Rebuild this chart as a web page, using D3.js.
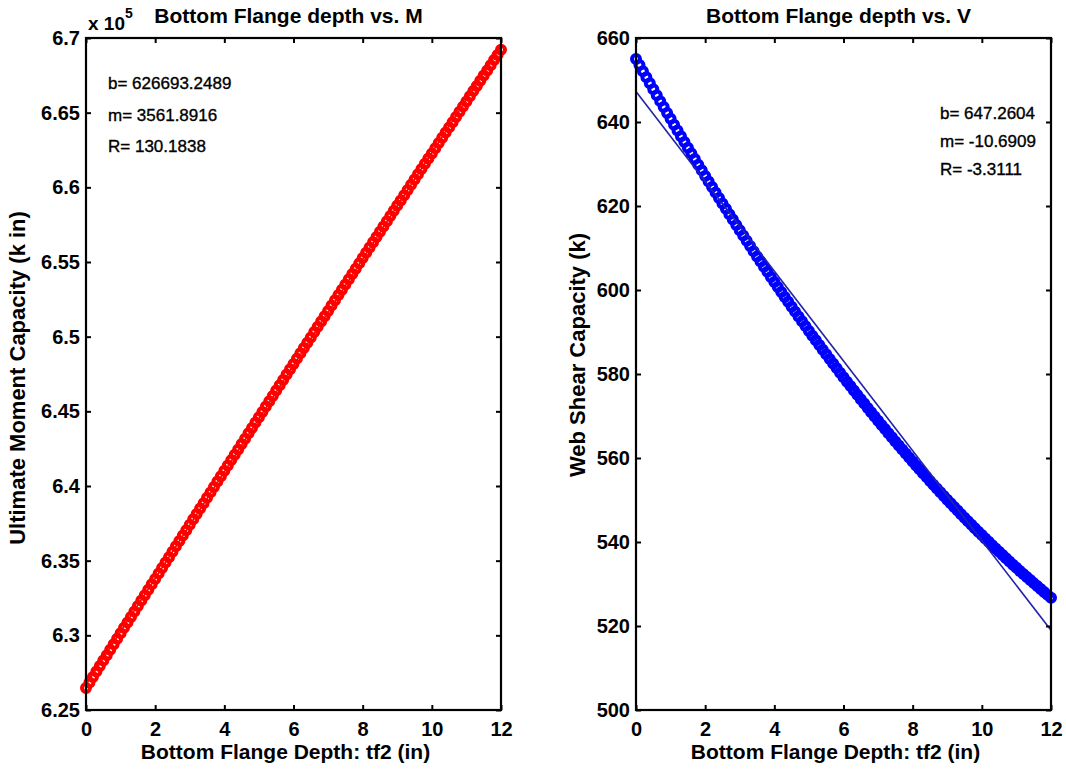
<!DOCTYPE html>
<html>
<head>
<meta charset="utf-8">
<script src="https://cdn.jsdelivr.net/npm/d3@7/dist/d3.min.js"></script>
<style>
  body { margin: 0; background: #fff; }
  svg { display: block; font-family: "Liberation Sans", Arial, Helvetica, sans-serif; }
</style>
</head>
<body>
<svg id="chart" width="1066" height="769"></svg>
<script>
// bottom flange depth samples (in)
const tf2 = [
  0.0, 0.1, 0.2, 0.3, 0.4, 0.5, 0.6, 0.7, 0.8, 0.9,
  1.0, 1.1, 1.2, 1.3, 1.4, 1.5, 1.6, 1.7, 1.8, 1.9,
  2.0, 2.1, 2.2, 2.3, 2.4, 2.5, 2.6, 2.7, 2.8, 2.9,
  3.0, 3.1, 3.2, 3.3, 3.4, 3.5, 3.6, 3.7, 3.8, 3.9,
  4.0, 4.1, 4.2, 4.3, 4.4, 4.5, 4.6, 4.7, 4.8, 4.9,
  5.0, 5.1, 5.2, 5.3, 5.4, 5.5, 5.6, 5.7, 5.8, 5.9,
  6.0, 6.1, 6.2, 6.3, 6.4, 6.5, 6.6, 6.7, 6.8, 6.9,
  7.0, 7.1, 7.2, 7.3, 7.4, 7.5, 7.6, 7.7, 7.8, 7.9,
  8.0, 8.1, 8.2, 8.3, 8.4, 8.5, 8.6, 8.7, 8.8, 8.9,
  9.0, 9.1, 9.2, 9.3, 9.4, 9.5, 9.6, 9.7, 9.8, 9.9,
  10.0, 10.1, 10.2, 10.3, 10.4, 10.5, 10.6, 10.7, 10.8, 10.9,
  11.0, 11.1, 11.2, 11.3, 11.4, 11.5, 11.6, 11.7, 11.8, 11.9,
  12.0
];

// ultimate moment capacity (k in)
const momentM = [
  626473, 626840, 627207, 627574, 627940, 628307, 628673, 629039, 629405, 629770,
  630136, 630501, 630866, 631231, 631596, 631960, 632325, 632689, 633053, 633417,
  633780, 634144, 634507, 634870, 635233, 635596, 635958, 636320, 636683, 637044,
  637406, 637768, 638129, 638490, 638851, 639212, 639573, 639933, 640294, 640654,
  641014, 641374, 641733, 642092, 642452, 642811, 643170, 643528, 643887, 644245,
  644603, 644961, 645319, 645676, 646034, 646391, 646748, 647104, 647461, 647818,
  648174, 648530, 648886, 649241, 649597, 649952, 650307, 650662, 651017, 651372,
  651726, 652080, 652434, 652788, 653142, 653495, 653849, 654202, 654555, 654908,
  655260, 655613, 655965, 656317, 656669, 657020, 657372, 657723, 658074, 658425,
  658776, 659126, 659477, 659827, 660177, 660527, 660876, 661226, 661575, 661924,
  662273, 662622, 662970, 663319, 663667, 664015, 664363, 664710, 665058, 665405,
  665752, 666099, 666445, 666792, 667138, 667484, 667830, 668176, 668522, 668867,
  669212
];

// web shear capacity (k)
const shearV = [
  655.00, 653.55, 652.10, 650.66, 649.23, 647.80, 646.38, 644.97, 643.56, 642.16,
  640.76, 639.37, 637.99, 636.62, 635.25, 633.89, 632.53, 631.18, 629.84, 628.50,
  627.17, 625.85, 624.53, 623.22, 621.91, 620.62, 619.32, 618.04, 616.76, 615.49,
  614.22, 612.96, 611.71, 610.46, 609.22, 607.99, 606.76, 605.54, 604.33, 603.12,
  601.92, 600.73, 599.54, 598.36, 597.18, 596.01, 594.85, 593.69, 592.54, 591.40,
  590.26, 589.13, 588.01, 586.89, 585.78, 584.68, 583.58, 582.49, 581.40, 580.32,
  579.25, 578.18, 577.12, 576.07, 575.03, 573.99, 572.95, 571.93, 570.90, 569.89,
  568.88, 567.88, 566.89, 565.90, 564.92, 563.94, 562.97, 562.01, 561.05, 560.10,
  559.16, 558.22, 557.29, 556.37, 555.45, 554.54, 553.64, 552.74, 551.85, 550.96,
  550.08, 549.21, 548.34, 547.49, 546.63, 545.79, 544.95, 544.11, 543.29, 542.46,
  541.65, 540.84, 540.04, 539.25, 538.46, 537.68, 536.90, 536.13, 535.37, 534.61,
  533.86, 533.12, 532.38, 531.65, 530.93, 530.21, 529.50, 528.80, 528.10, 527.41,
  526.72
];

// linear fits (intercept, slope) and their printed text
const fitM = [626693.2489, 3561.8916];
const fitV = [647.2604, -10.6909];
const fitTextM = ["b= 626693.2489", "m= 3561.8916", "R= 130.1838"];
const fitTextV = ["b= 647.2604", "m= -10.6909", "R= -3.3111"];

// ticks
const xTicks = [0, 2, 4, 6, 8, 10, 12];
const mTicks = [625000, 630000, 635000, 640000, 645000, 650000, 655000, 660000, 665000, 670000];
const mTickLabels = ["6.25", "6.3", "6.35", "6.4", "6.45", "6.5", "6.55", "6.6", "6.65", "6.7"];
const vTicks = [500, 520, 540, 560, 580, 600, 620, 640, 660];

const svg = d3.select("#chart");
svg.append("rect").attr("width", 1066).attr("height", 769).attr("fill", "#fff");

function drawPanel(p) {
  const x = d3.scaleLinear().domain([0, 12]).range([p.left, p.right]);
  const y = d3.scaleLinear().domain(p.yDomain).range([p.bottom, p.top]);
  const g = svg.append("g");

  // markers (dense 'o' markers form a solid band)
  g.selectAll("circle.pt")
    .data(tf2.map((t, i) => [t, p.values[i]]))
    .join("circle")
    .attr("class", "pt")
    .attr("cx", d => x(d[0]))
    .attr("cy", d => y(d[1]))
    .attr("r", 4)
    .attr("fill", "none")
    .attr("stroke", p.color)
    .attr("stroke-width", 4);

  // fit line
  g.append("line")
    .attr("x1", x(0)).attr("x2", x(12))
    .attr("y1", y(p.fit[0])).attr("y2", y(p.fit[0] + p.fit[1] * 12))
    .attr("stroke", p.lineColor)
    .attr("stroke-width", 1.6);

  const fmtY = p.yLabels ? (d, i) => p.yLabels[i] : d => d;

  const axes = [
    [d3.axisBottom(x).tickValues(xTicks).tickPadding(12), `translate(0,${p.bottom})`],
    [d3.axisTop(x).tickValues(xTicks).tickFormat(""), `translate(0,${p.top})`],
    [d3.axisLeft(y).tickValues(p.yTicks).tickFormat(fmtY).tickPadding(6), `translate(${p.left},0)`],
    [d3.axisRight(y).tickValues(p.yTicks).tickFormat(""), `translate(${p.right},0)`]
  ];
  for (const [ax, tr] of axes) {
    const a = g.append("g")
      .attr("transform", tr)
      .call(ax.tickSizeInner(-5).tickSizeOuter(0));
    a.select(".domain").remove();
    a.selectAll(".tick line").attr("stroke", "#000").attr("stroke-width", 2);
    a.selectAll(".tick text")
      .attr("fill", "#000")
      .attr("font-size", 20)
      .attr("font-weight", "bold")
      .attr("font-family", "'Liberation Sans', Arial, sans-serif");
  }

  // box
  g.append("rect")
    .attr("x", p.left).attr("y", p.top)
    .attr("width", p.right - p.left).attr("height", p.bottom - p.top)
    .attr("fill", "none").attr("stroke", "#000").attr("stroke-width", 2.2);

  // title and labels
  g.append("text")
    .attr("x", (p.left + p.right) / 2 - 5).attr("y", 23)
    .attr("text-anchor", "middle")
    .attr("font-size", 21).attr("font-weight", "bold")
    .text(p.title);

  g.append("text")
    .attr("x", (p.left + p.right) / 2 - 8).attr("y", 759)
    .attr("text-anchor", "middle")
    .attr("font-size", 21).attr("font-weight", "bold")
    .text("Bottom Flange Depth: tf2 (in)");

  g.append("text")
    .attr("transform", `translate(${p.yLabelX},${p.yLabelY}) rotate(-90)`)
    .attr("text-anchor", "middle")
    .attr("font-size", p.yLabelSize).attr("font-weight", "bold")
    .text(p.yLabel);

  // fit annotation
  g.selectAll("text.note")
    .data(p.notes)
    .join("text")
    .attr("class", "note")
    .attr("x", p.noteX)
    .attr("y", (d, i) => p.noteY[i])
    .attr("font-size", 17)
    .attr("stroke", "#000")
    .attr("stroke-width", 0.35)
    .text(d => d);

  return g;
}

const left = drawPanel({
  left: 86, right: 501, top: 38, bottom: 710,
  yDomain: [625000, 670000], yTicks: mTicks, yLabels: mTickLabels,
  values: momentM, fit: fitM, color: "#ff0000", lineColor: "#ff0000",
  title: "Bottom Flange depth vs. M",
  yLabel: "Ultimate Moment Capacity (k in)", yLabelX: 25, yLabelY: 378, yLabelSize: 22,
  notes: fitTextM, noteX: 108, noteY: [89, 121, 152]
});

// exponent label for the left y axis
const expo = left.append("text")
  .attr("x", 88).attr("y", 30)
  .attr("font-size", 19).attr("font-weight", "bold");
expo.append("tspan").text("x 10");
expo.append("tspan").attr("dy", -12).attr("font-size", 14).text("5");

drawPanel({
  left: 636, right: 1051, top: 38, bottom: 710,
  yDomain: [500, 660], yTicks: vTicks, yLabels: null,
  values: shearV, fit: fitV, color: "#0000ff", lineColor: "#2222aa",
  title: "Bottom Flange depth vs. V",
  yLabel: "Web Shear Capacity (k)", yLabelX: 585, yLabelY: 355, yLabelSize: 22,
  notes: fitTextV, noteX: 940, noteY: [119, 147, 175]
});
</script>
</body>
</html>
